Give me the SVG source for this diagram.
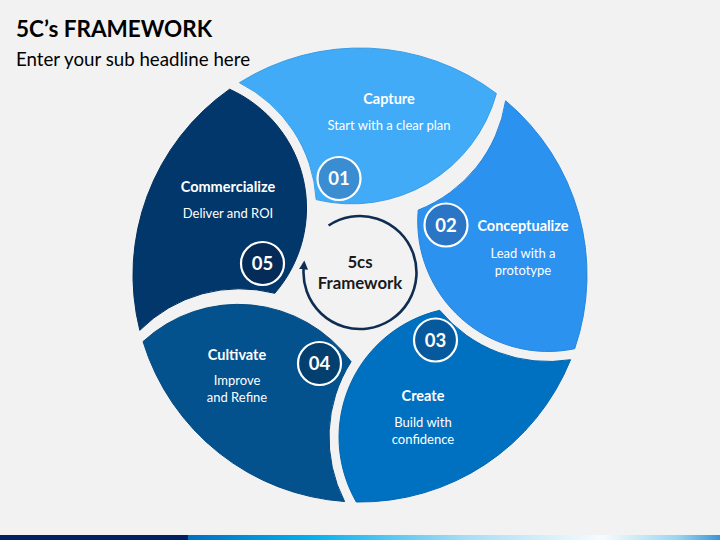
<svg xmlns="http://www.w3.org/2000/svg" width="720" height="540" viewBox="0 0 720 540">
  <defs>
    <style>
      .seg { stroke-width: 1; }
      .num circle { stroke: #ffffff; stroke-width: 2.2; }
      .num text { font-family: Lato, "Open Sans", sans-serif; font-weight: 700; font-size: 18.5px; fill: #ffffff; text-anchor: middle; }
      .ttl { font-family: Lato, "Open Sans", sans-serif; font-weight: 700; font-size: 14.5px; fill: #ffffff; text-anchor: middle; }
      .dsc { font-family: Lato, "Open Sans", sans-serif; font-weight: 400; font-size: 13px; fill: #ffffff; text-anchor: middle; }
      .ctr { font-family: Lato, "Open Sans", sans-serif; font-weight: 700; font-size: 16.8px; fill: #1a1a1a; text-anchor: middle; }
    </style>
    <linearGradient id="bar" x1="188" y1="0" x2="720" y2="0" gradientUnits="userSpaceOnUse">
      <stop offset="0" stop-color="#0070c0"/>
      <stop offset="0.23" stop-color="#00b0f0"/>
      <stop offset="0.52" stop-color="#a6ddf5"/>
      <stop offset="0.78" stop-color="#f7fbfe"/>
      <stop offset="0.92" stop-color="#9ad5f0"/>
      <stop offset="1" stop-color="#3a96d6"/>
    </linearGradient>
    <marker id="ah" viewBox="0 0 10 10" refX="2" refY="5" markerWidth="9" markerHeight="9" markerUnits="userSpaceOnUse" orient="auto">
      <path d="M0,0 L10,5 L0,10 Z" fill="#0f2d52"/>
    </marker>
  </defs>

  <rect x="0" y="0" width="720" height="540" fill="#f2f2f2"/>

  <g id="header">
    <text x="16" y="37" font-family="Lato, 'Open Sans', sans-serif" font-weight="700" font-size="22.5" fill="#000000">5C’s FRAMEWORK</text>
    <text x="16" y="66" font-family="Lato, 'Open Sans', sans-serif" font-size="18.7" fill="#000000">Enter your sub headline here</text>
  </g>

  <g id="capture">
    <path class="seg" d="M239.4,82.7 A227,227 0 0 1 496.4,93.5 A150,150 0 0 1 316.2,199.6 A140.3,140.3 0 0 0 239.4,82.7 Z" fill="#41abf7" stroke="#3a9ee6"/>
    <text class="ttl" x="389" y="104">Capture</text>
    <text class="dsc" x="389" y="130">Start with a clear plan</text>
    <g class="num"><circle cx="339" cy="178.5" r="21.5" fill="#3a8dd0"/><text x="339" y="185">01</text></g>
  </g>

  <g id="conceptualize">
    <path class="seg" d="M505.6,100.8 A227,227 0 0 1 574.7,348.7 A130.3,130.3 0 0 1 418.2,210.1 A140.3,140.3 0 0 0 505.6,100.8 Z" fill="#2b92f0" stroke="#2585dc"/>
    <text class="ttl" x="523" y="231">Conceptualize</text>
    <text class="dsc" x="523" y="258">Lead with a</text>
    <text class="dsc" x="523" y="275">prototype</text>
    <g class="num"><circle cx="446" cy="225" r="21.5" fill="#2a75c6"/><text x="446" y="231.5">02</text></g>
  </g>

  <g id="create">
    <path class="seg" d="M570.6,359.7 A227,227 0 0 1 356.3,502 A130.3,130.3 0 0 1 439.7,310.3 A140.3,140.3 0 0 0 570.6,359.7 Z" fill="#0070c0" stroke="#0066b0"/>
    <text class="ttl" x="423" y="401">Create</text>
    <text class="dsc" x="423" y="427">Build with</text>
    <text class="dsc" x="423" y="444">confidence</text>
    <g class="num"><circle cx="435.5" cy="340" r="21.5" fill="#07599d"/><text x="435.5" y="346.5">03</text></g>
  </g>

  <g id="cultivate">
    <path class="seg" d="M344.6,501.5 A227,227 0 0 1 143,341.6 A140,140 0 0 1 351.1,361.7 A140.3,140.3 0 0 0 344.6,501.5 Z" fill="#03518d" stroke="#034a80"/>
    <text class="ttl" x="237" y="360">Cultivate</text>
    <text class="dsc" x="237" y="385">Improve</text>
    <text class="dsc" x="237" y="402">and Refine</text>
    <g class="num"><circle cx="319.5" cy="363.5" r="21.5" fill="#04406f"/><text x="319.5" y="370">04</text></g>
  </g>

  <g id="commercialize">
    <path class="seg" d="M139.8,330.3 A227,227 0 0 1 229.6,89.2 A130.3,130.3 0 0 1 274.8,293.3 A140.3,140.3 0 0 0 139.8,330.3 Z" fill="#02376b" stroke="#023060"/>
    <text class="ttl" x="228" y="191.5">Commercialize</text>
    <text class="dsc" x="228" y="218">Deliver and ROI</text>
    <g class="num"><circle cx="262.5" cy="263.5" r="21.5" fill="#052c58"/><text x="262.5" y="270">05</text></g>
  </g>

  <g id="connectors">
    <path d="M328.6,225.5 A56.5,56.5 0 1 1 303.7,267.6" fill="none" stroke="#0f2d52" stroke-width="2.6" marker-end="url(#ah)"/>
  </g>

  <g id="center">
    <text class="ctr" x="360" y="268">5cs</text>
    <text class="ctr" x="360" y="289">Framework</text>
  </g>

  <g id="footer">
    <rect x="0" y="535" width="188" height="5" fill="#002060"/>
    <rect x="188" y="535" width="532" height="5" fill="url(#bar)"/>
  </g>
</svg>
